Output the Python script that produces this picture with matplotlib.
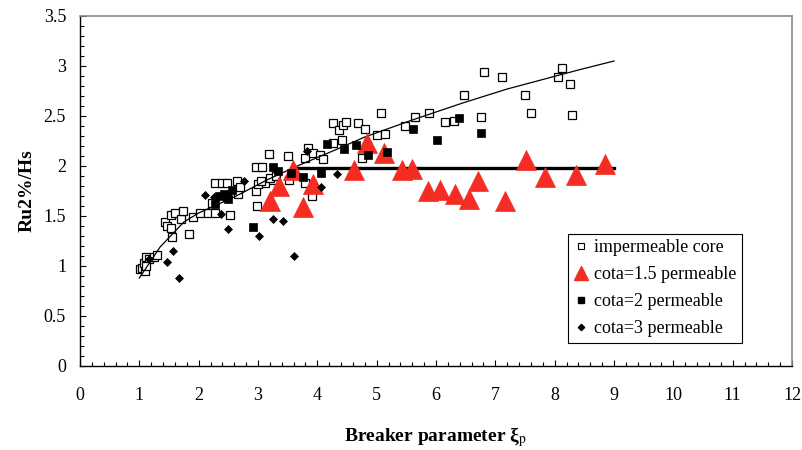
import matplotlib
matplotlib.use("Agg")
import matplotlib.pyplot as plt
from matplotlib.lines import Line2D
from matplotlib.ticker import MultipleLocator, FixedLocator

plt.rcParams['font.family'] = ['Liberation Serif', 'DejaVu Serif']
plt.rcParams['mathtext.fontset'] = 'stix'

# impermeable core (open squares)
imp_x = [1.01, 1.04, 1.10, 1.08, 1.12, 1.17, 1.24, 1.30, 1.12,
         1.43, 1.46, 1.53, 1.55, 1.53, 1.60, 1.70, 1.74, 1.83,
         1.91, 2.02, 2.15, 2.22, 2.28, 2.53, 2.28, 2.39, 2.47, 2.64, 2.67, 2.69,
         2.97, 2.98, 2.97, 3.07, 3.12, 3.19, 3.26, 3.00, 3.05, 3.20, 3.30,
         3.51, 3.53, 3.79, 3.79, 3.85, 3.91, 3.93, 4.05, 4.09,
         4.27, 4.37, 4.43, 4.48, 4.27, 4.41, 4.68, 4.80, 4.76, 5.00, 5.14, 5.07,
         5.48, 5.65, 5.88, 6.15, 6.30, 6.47, 6.81, 7.11, 6.76, 7.50, 7.60,
         8.12, 8.05, 8.26, 8.29]
imp_y = [0.97, 0.98, 0.95, 1.03, 1.09, 1.07, 1.09, 1.11, 1.00,
         1.44, 1.40, 1.38, 1.29, 1.51, 1.53, 1.47, 1.55, 1.32,
         1.49, 1.53, 1.53, 1.63, 1.53, 1.51, 1.83, 1.83, 1.83, 1.85, 1.72, 1.79,
         1.75, 1.60, 1.99, 1.99, 1.83, 2.12, 1.86, 1.82, 1.85, 1.88, 1.90,
         2.10, 1.86, 1.83, 2.08, 2.18, 1.70, 2.13, 2.11, 2.07,
         2.43, 2.36, 2.41, 2.44, 2.23, 2.26, 2.43, 2.37, 2.08, 2.31, 2.32, 2.53,
         2.40, 2.49, 2.53, 2.44, 2.45, 2.71, 2.94, 2.89, 2.49, 2.71, 2.53,
         2.98, 2.89, 2.82, 2.51]

# cota = 1.5 permeable (red triangles)
c15_x = [3.20, 3.36, 3.59, 3.75, 3.93, 4.62, 4.84, 5.12, 5.42, 5.60,
         5.87, 6.06, 6.32, 6.56, 6.70, 7.16, 7.52, 7.83, 8.36, 8.85]
c15_y = [1.65, 1.80, 1.96, 1.59, 1.82, 1.96, 2.23, 2.13, 1.96, 1.97,
         1.75, 1.76, 1.72, 1.67, 1.85, 1.65, 2.06, 1.89, 1.91, 2.02]

# cota = 2 permeable (filled squares)
c2_x = [2.28, 2.35, 2.42, 2.47, 2.50, 2.56, 2.92, 3.25, 3.34, 3.55, 3.75,
        4.06, 4.17, 4.45, 4.66, 4.86, 5.17, 5.61, 6.01, 6.39, 6.76]
c2_y = [1.62, 1.70, 1.72, 1.69, 1.67, 1.76, 1.39, 1.99, 1.95, 1.93, 1.89,
        1.93, 2.22, 2.17, 2.21, 2.11, 2.14, 2.37, 2.26, 2.48, 2.33]

# cota = 3 permeable (diamonds)
c3_x = [1.17, 1.46, 1.56, 1.67, 2.11, 2.25, 2.37, 2.49, 2.76, 3.02,
        3.25, 3.42, 3.61, 3.82, 4.06, 4.33]
c3_y = [1.07, 1.04, 1.15, 0.88, 1.71, 1.69, 1.52, 1.37, 1.85, 1.30,
        1.47, 1.45, 1.10, 2.15, 1.79, 1.92]

# trend for the impermeable core
fit_x = [1.0, 1.35, 1.75, 2.0, 2.6, 3.15, 3.7, 4.3, 4.8, 5.6, 6.45, 7.2, 8.4, 9.0]
fit_y = [0.88, 1.19, 1.44, 1.53, 1.69, 1.86, 2.01, 2.16, 2.29, 2.46, 2.63, 2.77, 2.96, 3.05]

# mean level for cota = 1.5
mean_x = [3.6, 9.0]
mean_y = [1.98, 1.98]

x_ticks = list(range(0, 13))
y_ticks = [0, 0.5, 1, 1.5, 2, 2.5, 3, 3.5]
y_tick_labels = ['0', '0.5', '1', '1.5', '2', '2.5', '3', '3.5']

red = '#F32D23'

fig = plt.figure(figsize=(8.02, 4.5), dpi=100)
ax = fig.add_axes([80 / 802, 1 - 366 / 450, (792 - 80) / 802, (366 - 16) / 450])

ax.plot(imp_x, imp_y, linestyle='none', marker='s', ms=6, mfc='white',
        mec='black', mew=0.9, zorder=2)
ax.plot(fit_x, fit_y, color='black', lw=0.9, zorder=3)
ax.plot(mean_x, mean_y, color='black', lw=2.4, zorder=3)
ax.plot(c15_x, c15_y, linestyle='none', marker='^', ms=14.5, mfc=red,
        mec=red, mew=0.5, zorder=4)
ax.plot(c2_x, c2_y, linestyle='none', marker='s', ms=6.2, mfc='black',
        mec='black', mew=0.5, zorder=5)
ax.plot(c3_x, c3_y, linestyle='none', marker='D', ms=4.3, mfc='black',
        mec='black', mew=0.5, zorder=5)

ax.set_xlim(0, 12)
ax.set_ylim(0, 3.5)
ax.xaxis.set_major_locator(FixedLocator(x_ticks))
ax.xaxis.set_minor_locator(MultipleLocator(0.2))
ax.set_yticks(y_ticks)
ax.set_yticklabels(y_tick_labels)
ax.yaxis.set_minor_locator(MultipleLocator(0.1))
ax.tick_params(which='both', direction='in', top=False, right=False,
               labelsize=13, width=0.8, color='black')
ax.tick_params(axis='x', which='major', length=4.5, pad=15)
ax.tick_params(axis='y', which='major', length=4.5, pad=10)
ax.tick_params(which='minor', length=2.8)

for side in ('left', 'bottom'):
    ax.spines[side].set_color('black')
    ax.spines[side].set_linewidth(1.0)
for side in ('top', 'right'):
    ax.spines[side].set_color('#8a8a8a')
    ax.spines[side].set_linewidth(1.2)

ax.set_xlabel('Breaker parameter ξ$_{\\mathrm{p}}$', fontsize=14,
              fontweight='bold', labelpad=15)
ax.set_ylabel('Ru2%/Hs', fontsize=14, fontweight='bold', labelpad=6)

handles = [
    Line2D([], [], linestyle='none', marker='s', ms=4.5, mfc='white', mec='black', mew=0.8),
    Line2D([], [], linestyle='none', marker='^', ms=9.5, mfc=red, mec=red),
    Line2D([], [], linestyle='none', marker='s', ms=4.2, mfc='black', mec='black'),
    Line2D([], [], linestyle='none', marker='D', ms=3.2, mfc='black', mec='black'),
]
labels = ['impermeable core', 'cota=1.5 permeable', 'cota=2 permeable', 'cota=3 permeable']
leg = ax.legend(handles, labels, loc='upper left', bbox_to_anchor=(568 / 802, 1 - 234 / 450),
                bbox_transform=fig.transFigure, borderaxespad=0, fontsize=13,
                frameon=True, fancybox=False, edgecolor='black', framealpha=1,
                handlelength=0.8, handletextpad=0.35, borderpad=0.3,
                labelspacing=0.55, numpoints=1)
leg.get_frame().set_linewidth(0.8)

fig.savefig('out.png', dpi=100)
